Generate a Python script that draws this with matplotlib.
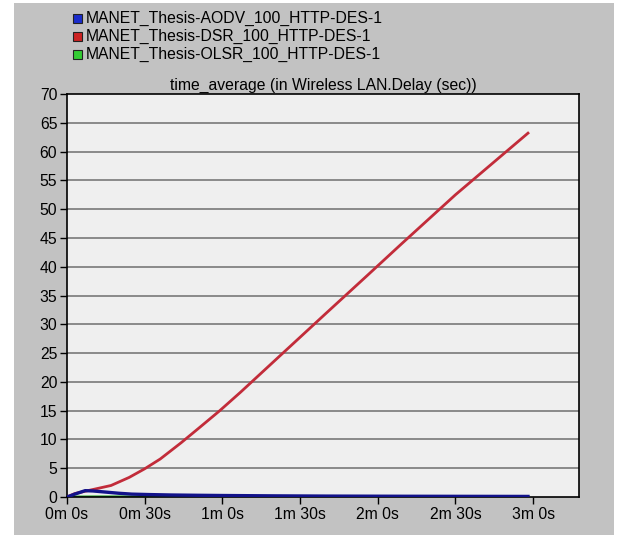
import matplotlib
matplotlib.use('Agg')
import matplotlib.pyplot as plt
from matplotlib.patches import Rectangle

plt.rcParams['font.family'] = ['Liberation Sans', 'DejaVu Sans']

# time in seconds
dsr_t = [0, 3, 7, 12, 17, 24, 30, 36, 44, 51, 59, 67, 80, 100, 116, 129, 150, 178]
dsr_v = [0, 0.6, 1.0, 1.5, 2.0, 3.4, 4.9, 6.6, 9.4, 12.0, 15.0, 18.2, 23.6, 31.9, 38.5, 43.9, 52.5, 63.2]

aodv_t = [0, 3, 7, 10, 15, 20, 25, 32, 40, 50, 60, 80, 100, 130, 178]
aodv_v = [0, 0.5, 1.1, 1.05, 0.85, 0.65, 0.5, 0.42, 0.35, 0.3, 0.26, 0.2, 0.16, 0.13, 0.1]

olsr_t = [0, 10, 30, 60, 100, 178]
olsr_v = [0, 0.03, 0.03, 0.02, 0.02, 0.02]

legend_names = ['MANET_Thesis-AODV_100_HTTP-DES-1',
                'MANET_Thesis-DSR_100_HTTP-DES-1',
                'MANET_Thesis-OLSR_100_HTTP-DES-1']
legend_colors = ['#1a2ccc', '#cc2222', '#33cc33']

xticks = [0, 30, 60, 90, 120, 150, 180]
xlabels = ['0m 0s', '0m 30s', '1m 0s', '1m 30s', '2m 0s', '2m 30s', '3m 0s']
yticks = list(range(0, 75, 5))

W, H = 617, 538
fig = plt.figure(figsize=(W / 100, H / 100), dpi=100)
fig.patch.set_facecolor('white')
# grey panel behind everything
fig.patches.append(Rectangle((14 / W, 3 / H), 600 / W, 532 / H, transform=fig.transFigure,
                             facecolor='#c2c2c2', edgecolor='none', zorder=-5))

ax = fig.add_axes([67 / W, 1 - 497 / H, 512 / W, 403 / H])
ax.set_facecolor('#efefef')
for y in yticks[1:-1]:
    ax.axhline(y, color='#6e6e6e', lw=1.1, zorder=1)

ax.plot(olsr_t, olsr_v, color='#22a022', lw=2, zorder=2)
ax.plot(dsr_t, dsr_v, color='#c22c3a', lw=2, zorder=3)
ax.plot(aodv_t, aodv_v, color='#12128a', lw=2.4, zorder=4)

ax.set_xlim(0, 197.7)
ax.set_ylim(0, 70)
ax.set_xticks(xticks)
ax.set_xticklabels(xlabels)
ax.set_yticks(yticks)
ax.tick_params(direction='out', length=5, width=1, labelsize=11.3, colors='black', pad=2)
for s in ax.spines.values():
    s.set_color('black')
    s.set_linewidth(1.2)
ax.set_title('time_average (in Wireless LAN.Delay (sec))', fontsize=11.3, pad=3)

# legend at top
for i, (name, c) in enumerate(zip(legend_names, legend_colors)):
    yc = 18 + i * 18
    fig.patches.append(Rectangle((73 / W, 1 - (yc + 4.5) / H), 9 / W, 9 / H, transform=fig.transFigure,
                                 facecolor=c, edgecolor='#222222', lw=0.8, zorder=2))
    fig.text(86 / W, 1 - yc / H, name, fontsize=11.3, va='center', ha='left')

fig.savefig('out.png', dpi=100)
